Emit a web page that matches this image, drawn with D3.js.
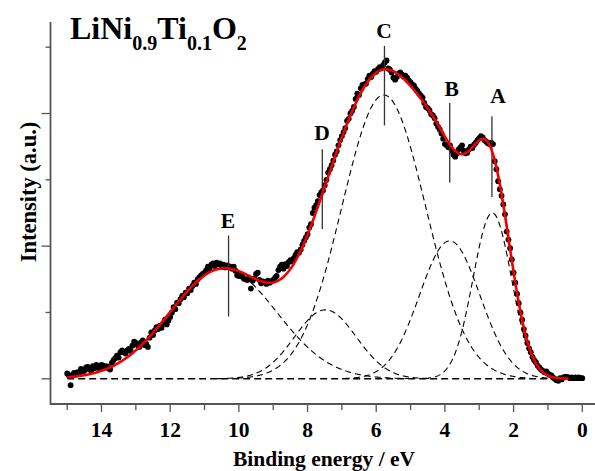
<!DOCTYPE html>
<html>
<head>
<meta charset="utf-8">
<script src="https://cdnjs.cloudflare.com/ajax/libs/d3/7.8.5/d3.min.js"></script>
<style>
   body { margin: 0; background: #fff; }
   svg { display: block; }
   text { font-family: "Liberation Serif", "Times New Roman", serif; font-weight: bold; fill: #000; }
</style>
</head>
<body>
<svg width="595" height="471"></svg>
<script>
// measured spectrum, 15.00 eV down to 0.00 eV in 0.05 eV steps
var energyStart = 15;
var energyStep = 0.05;
var counts = [
   0.040, 0.025, -0.048, 0.030, 0.045, 0.030, 0.050, 0.040, 0.075, 0.055, 0.060, 0.085, 0.090, 0.070, 0.060, 0.095, 0.080, 0.105, 0.090, 0.075,
   0.105, 0.100, 0.085, 0.095, 0.080, 0.070, 0.120, 0.140, 0.155, 0.175, 0.160, 0.200, 0.215, 0.200, 0.190, 0.215, 0.225, 0.210, 0.250, 0.280,
   0.270, 0.255, 0.240, 0.275, 0.290, 0.255, 0.265, 0.240, 0.310, 0.350, 0.330, 0.365, 0.390, 0.375, 0.400, 0.385, 0.420, 0.445, 0.410, 0.440,
   0.465, 0.500, 0.540, 0.525, 0.575, 0.570, 0.600, 0.625, 0.615, 0.650, 0.645, 0.680, 0.670, 0.700, 0.725, 0.715, 0.750, 0.765, 0.780, 0.790,
   0.800, 0.820, 0.845, 0.830, 0.860, 0.870, 0.850, 0.875, 0.865, 0.870, 0.845, 0.860, 0.840, 0.855, 0.850, 0.845, 0.830, 0.845, 0.815, 0.780,
   0.775, 0.790, 0.770, 0.755, 0.750, 0.745, 0.760, 0.680, 0.740, 0.755, 0.790, 0.800, 0.745, 0.720, 0.735, 0.730, 0.715, 0.740, 0.725, 0.735,
   0.745, 0.760, 0.775, 0.820, 0.845, 0.860, 0.830, 0.865, 0.850, 0.880, 0.895, 0.885, 0.910, 0.935, 0.955, 0.950, 0.975, 1.010, 1.040, 1.065,
   1.090, 1.140, 1.165, 1.250, 1.290, 1.310, 1.340, 1.385, 1.405, 1.420, 1.460, 1.500, 1.555, 1.580, 1.610, 1.645, 1.690, 1.715, 1.760, 1.800,
   1.830, 1.860, 1.890, 1.945, 1.960, 2.000, 2.020, 2.050, 2.110, 2.150, 2.140, 2.190, 2.215, 2.220, 2.225, 2.260, 2.285, 2.275, 2.300, 2.320,
   2.315, 2.335, 2.350, 2.345, 2.365, 2.385, 2.400, 2.340, 2.330, 2.310, 2.270, 2.255, 2.275, 2.300, 2.310, 2.295, 2.280, 2.285, 2.270, 2.250,
   2.235, 2.220, 2.210, 2.185, 2.170, 2.150, 2.135, 2.120, 2.080, 2.050, 2.040, 2.025, 1.995, 1.985, 1.965, 1.925, 1.900, 1.880, 1.850, 1.810,
   1.770, 1.760, 1.745, 1.760, 1.720, 1.690, 1.675, 1.700, 1.730, 1.745, 1.760, 1.720, 1.700, 1.705, 1.730, 1.750, 1.740, 1.765, 1.780, 1.800,
   1.815, 1.830, 1.820, 1.800, 1.790, 1.775, 1.770, 1.780, 1.770, 1.640, 1.580, 1.490, 1.430, 1.380, 1.315, 1.240, 1.110, 1.050, 0.985, 0.900,
   0.800, 0.725, 0.640, 0.570, 0.500, 0.445, 0.375, 0.325, 0.270, 0.230, 0.200, 0.165, 0.140, 0.125, 0.100, 0.085, 0.070, 0.060, 0.050, 0.055,
   0.040, 0.030, 0.025, 0.010, 0.000, -0.010, -0.015, 0.005, -0.005, 0.010, 0.015, 0.015, 0.010, 0.005, 0.010, 0.005, 0.010, 0.005, 0.010, 0.005,
   0.005
];

// fitted components (gaussian)
var peakNames = ["A", "B", "C", "D", "E"];
var peakCenters = [2.62, 3.86, 5.78, 7.48, 10.45];
var peakHeights = [1.25, 1.04, 2.14, 0.52, 0.83];
var peakSigmas = [0.56, 0.88, 1.22, 0.90, 1.55];

// marker bars and letters
var markerEnergy = [2.63, 3.86, 5.76, 7.57, 10.30];
var markerLow = [1.37, 1.48, 1.91, 1.13, 0.47];
var markerHigh = [1.98, 2.08, 2.51, 1.73, 1.08];
var labelEnergy = [2.45, 3.80, 5.77, 7.58, 10.32];
var labelLevel = [2.08, 2.13, 2.57, 1.80, 1.14];

var fitRange = [15, 0.4];
var xTicks = [15, 14, 13, 12, 11, 10, 9, 8, 7, 6, 5, 4, 3, 2, 1, 0];
var xLabels = [14, 12, 10, 8, 6, 4, 2, 0];
var yTicks = [0, 0.5, 1, 1.5, 2, 2.5];
var yMajor = [0, 1, 2];

var svg = d3.select("svg");

var x = d3.scaleLinear().domain([15.5, -0.4]).range([50, 596]);
var y = d3.scaleLinear().domain([-0.19, 2.69]).range([404, 22]);

var energies = counts.map(function(d, i) {
   return +(energyStart - i * energyStep).toFixed(2);
});

function peak(k, e) {
   var d = e - peakCenters[k];
   var s = peakSigmas[k];
   return peakHeights[k] * Math.exp(-d * d / (2 * s * s));
}

function envelope(e) {
   var sum = 0;
   for (var k = 0; k < peakNames.length; k++) {
      sum += peak(k, e);
   }
   return sum;
}

var line = d3.line()
   .x(function(d) { return x(d[0]); })
   .y(function(d) { return y(d[1]); });

// baseline
svg.append("path")
   .attr("d", line([[fitRange[0], 0], [fitRange[1], 0]]))
   .attr("fill", "none")
   .attr("stroke", "#000")
   .attr("stroke-width", 1.5)
   .attr("stroke-dasharray", "7,4");

// components
peakNames.forEach(function(name, k) {
   var lo = Math.max(fitRange[1], peakCenters[k] - 3.5 * peakSigmas[k]);
   var hi = Math.min(fitRange[0], peakCenters[k] + 3.5 * peakSigmas[k]);
   var pts = d3.range(hi, lo, -0.02).map(function(e) {
      return [e, peak(k, e)];
   });
   svg.append("path")
      .attr("d", line(pts))
      .attr("fill", "none")
      .attr("stroke", "#000")
      .attr("stroke-width", 1.1)
      .attr("stroke-dasharray", "6,4");
});

// data points
svg.append("g")
   .selectAll("circle")
   .data(counts)
   .enter().append("circle")
   .attr("cx", function(d, i) { return x(energies[i]); })
   .attr("cy", function(d) { return y(d); })
   .attr("r", 2.9)
   .attr("fill", "#000");

// marker bars
svg.append("g")
   .selectAll("line")
   .data(markerEnergy)
   .enter().append("line")
   .attr("x1", function(d) { return x(d); })
   .attr("x2", function(d) { return x(d); })
   .attr("y1", function(d, i) { return y(markerLow[i]); })
   .attr("y2", function(d, i) { return y(markerHigh[i]); })
   .attr("stroke", "#333")
   .attr("stroke-width", 1.3);

// fit envelope
var fitPts = energies.filter(function(e) {
   return e <= fitRange[0] && e >= fitRange[1];
}).map(function(e) {
   return [e, envelope(e)];
});
svg.append("path")
   .attr("d", line(fitPts))
   .attr("fill", "none")
   .attr("stroke", "#f00000")
   .attr("stroke-width", 2.6)
   .attr("stroke-linejoin", "round");

// peak letters
svg.append("g")
   .selectAll("text")
   .data(peakNames)
   .enter().append("text")
   .attr("x", function(d, i) { return x(labelEnergy[i]); })
   .attr("y", function(d, i) { return y(labelLevel[i]); })
   .attr("text-anchor", "middle")
   .attr("font-size", 21.5)
   .text(function(d) { return d; });

// axes
var axisColor = "#555";

svg.append("line")
   .attr("x1", 50).attr("x2", 596)
   .attr("y1", 404).attr("y2", 404)
   .attr("stroke", axisColor).attr("stroke-width", 1.8);
svg.append("line")
   .attr("x1", 50.5).attr("x2", 50.5)
   .attr("y1", 22).attr("y2", 405)
   .attr("stroke", axisColor).attr("stroke-width", 1.8);

svg.append("g")
   .selectAll("line")
   .data(xTicks)
   .enter().append("line")
   .attr("x1", function(d) { return x(d); })
   .attr("x2", function(d) { return x(d); })
   .attr("y1", 405)
   .attr("y2", function(d) { return xLabels.indexOf(d) >= 0 ? 412 : 410; })
   .attr("stroke", axisColor)
   .attr("stroke-width", 1.3);

svg.append("g")
   .selectAll("text")
   .data(xLabels)
   .enter().append("text")
   .attr("x", function(d) { return x(d); })
   .attr("y", 437)
   .attr("text-anchor", "middle")
   .attr("font-size", 21.5)
   .text(function(d) { return d; });

svg.append("g")
   .selectAll("line")
   .data(yTicks)
   .enter().append("line")
   .attr("x1", function(d) { return yMajor.indexOf(d) >= 0 ? 41.5 : 45.5; })
   .attr("x2", 50)
   .attr("y1", function(d) { return y(d); })
   .attr("y2", function(d) { return y(d); })
   .attr("stroke", axisColor)
   .attr("stroke-width", 1.3);

// axis titles
svg.append("text")
   .attr("x", 324)
   .attr("y", 466)
   .attr("text-anchor", "middle")
   .attr("font-size", 21.5)
   .text("Binding energy / eV");

svg.append("text")
   .attr("transform", "translate(36,192) rotate(-90)")
   .attr("text-anchor", "middle")
   .attr("font-size", 22.5)
   .text("Intensity (a.u.)");

// sample name
var title = svg.append("text")
   .attr("x", 70)
   .attr("y", 38.5)
   .attr("font-size", 32);
title.append("tspan").text("LiNi");
title.append("tspan").attr("font-size", 20).attr("dy", 11).text("0.9");
title.append("tspan").attr("dy", -11).text("Ti");
title.append("tspan").attr("font-size", 20).attr("dy", 11).text("0.1");
title.append("tspan").attr("dy", -11).text("O");
title.append("tspan").attr("font-size", 20).attr("dy", 11).text("2");
</script>
</body>
</html>
